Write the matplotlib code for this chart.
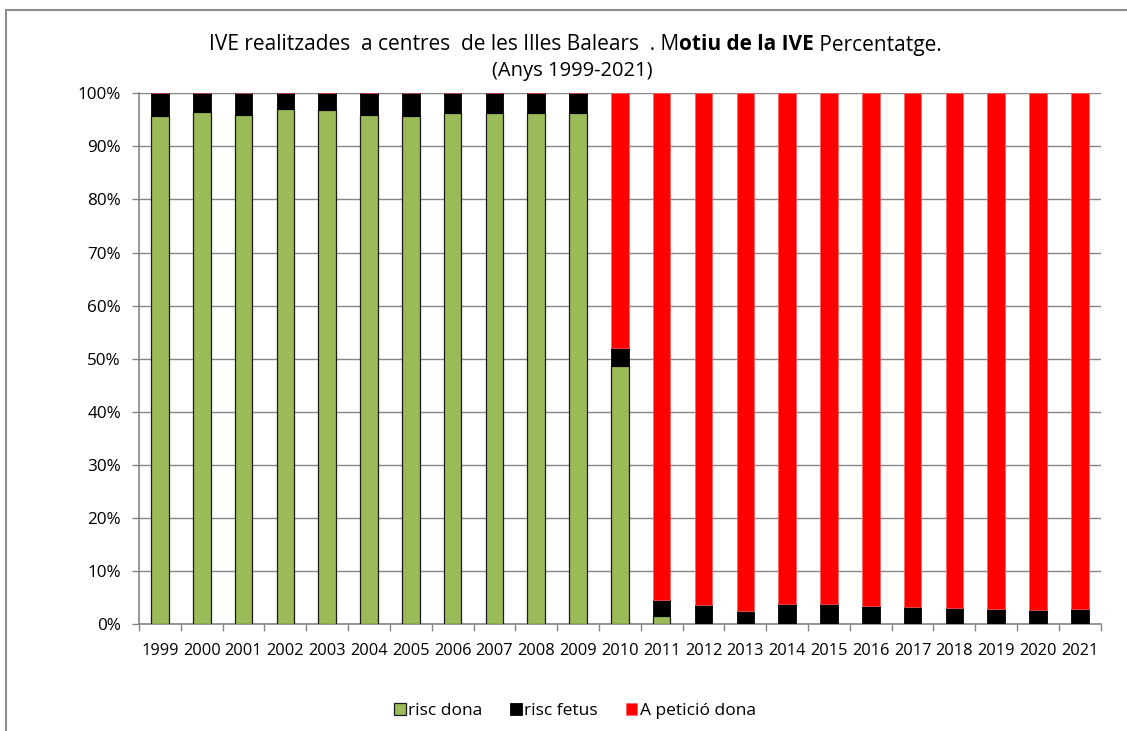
import matplotlib
import matplotlib.pyplot as plt
from matplotlib.patches import Rectangle
from matplotlib.ticker import FixedLocator, PercentFormatter
import numpy as np

matplotlib.use('Agg')

plt.rcParams['font.family'] = ['Open Sans', 'DejaVu Sans']

years = [str(y) for y in range(1999, 2022)]

# percentages
risc_dona = [95.7, 96.5, 96.0, 97.1, 96.9, 96.0, 95.7, 96.3, 96.3, 96.3, 96.3,
             48.6, 1.6, 0, 0, 0, 0, 0, 0, 0, 0, 0, 0]
risc_fetus = [4.3, 3.5, 4.0, 2.9, 3.1, 4.0, 4.3, 3.7, 3.7, 3.7, 3.7,
              3.4, 3.0, 3.5, 2.5, 3.7, 3.8, 3.4, 3.2, 3.0, 2.8, 2.6, 2.8]
peticio_dona = [100 - a - b for a, b in zip(risc_dona, risc_fetus)]

labels = ['risc dona', 'risc fetus', 'A petició dona']

fig = plt.figure(figsize=(11.27, 7.31), dpi=100)
ax = fig.add_axes([139 / 1127, 1 - 624 / 731, (1100.7 - 139) / 1127, (624 - 93.3) / 731])

x = np.arange(len(years))
w = 0.42
ax.bar(x, risc_dona, w, color='#9BBB59', edgecolor='#1a1a1a', linewidth=0.9,
       label=labels[0], zorder=3)
ax.bar(x, risc_fetus, w, bottom=risc_dona, color='black', edgecolor='black',
       linewidth=0.6, label=labels[1], zorder=3)
bottom2 = [a + b for a, b in zip(risc_dona, risc_fetus)]
ax.bar(x, peticio_dona, w, bottom=bottom2, color='#FF0000', edgecolor='#FF6060',
       linewidth=0.5, label=labels[2], zorder=3)

ax.set_xlim(-0.5, len(years) - 0.5)
ax.set_ylim(0, 100)
ax.yaxis.set_major_locator(FixedLocator(range(0, 101, 10)))
ax.yaxis.set_major_formatter(PercentFormatter(decimals=0))
ax.set_xticks(x)
ax.set_xticklabels(years)
ax.set_xticks(np.arange(-0.5, len(years), 1), minor=True)
ax.tick_params(axis='x', which='major', length=0, pad=14, labelsize=11.8)
ax.tick_params(axis='x', which='minor', length=5, color='#868686', width=1)
ax.tick_params(axis='y', length=5, color='#868686', width=1, labelsize=12.3, pad=8)
ax.yaxis.grid(True, color='#868686', linewidth=1, zorder=0)
for s in ['top', 'right']:
    ax.spines[s].set_visible(False)
for s in ['left', 'bottom']:
    ax.spines[s].set_color('#868686')
    ax.spines[s].set_linewidth(1.2)

ax.legend(loc='center', bbox_to_anchor=(575 / 1127, 1 - 711 / 731),
          bbox_transform=fig.transFigure, ncol=3, frameon=False, fontsize=12.5,
          handlelength=0.65, handleheight=0.65, handletextpad=0.15, columnspacing=1.6)

# outer chart border
fig.add_artist(Rectangle((6 / 1127, -0.05), 1.1, 1 - 10 / 731 + 0.05,
                         transform=fig.transFigure, fill=False,
                         edgecolor='#8c8c8c', linewidth=1.5))

# title with bold part
parts = [('IVE realitzades  a centres  de les Illes Balears  . M', 'normal'),
         ('otiu de la IVE', 'bold'),
         (' Percentatge.', 'normal')]
fig.canvas.draw()
renderer = fig.canvas.get_renderer()
texts = []
widths = []
for s, wt in parts:
    t = fig.text(0, 1 - 45 / 731, s, fontsize=15, fontweight=wt, va='center', ha='left')
    widths.append(t.get_window_extent(renderer).width)
    texts.append(t)
total = sum(widths)
xpos = 575 - total / 2
for t, wd in zip(texts, widths):
    t.set_x(xpos / 1127)
    xpos += wd
fig.text(572 / 1127, 1 - 71 / 731, '(Anys 1999-2021)', fontsize=14.5, ha='center', va='center')

fig.savefig('out.png', dpi=100)
